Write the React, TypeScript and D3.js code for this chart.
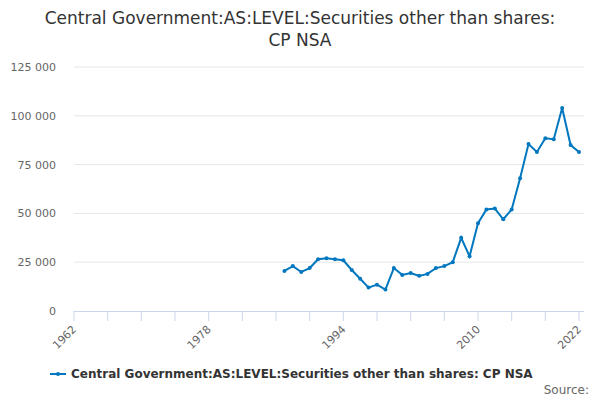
import React from 'react';
import * as d3 from 'd3';

const years = d3.range(1987, 2023);
const values = [20500, 23000, 20000, 22000, 26500, 27000, 26500, 26000, 21000, 16500, 12000, 13500, 11000, 22000, 18500, 19500, 18000, 19000, 22000, 23000, 25000, 37500, 28000, 45000, 52000, 52500, 47000, 52000, 68000, 85500, 81500, 88500, 88000, 104000, 85000, 81500];
const yTicks = [0, 25000, 50000, 75000, 100000, 125000];
const xLabels = [1962, 1978, 1994, 2010, 2022];
const xTickMarks = [...d3.range(1962, 2022, 4), 2022];
const title = ['Central Government:AS:LEVEL:Securities other than shares:', 'CP NSA'];
const seriesName = 'Central Government:AS:LEVEL:Securities other than shares: CP NSA';

const color = '#0077be';
const font = '"DejaVu Sans", sans-serif';

const App: React.FC = () => {
  const x = d3.scaleLinear().domain([1962, 2022]).range([74, 579]);
  const y = d3.scaleLinear().domain([0, 125000]).range([311, 67]);
  const line = d3.line<number>().x((_, i) => x(years[i])).y(d => y(d));
  const fmt = (v: number) => d3.format(',')(v).replace(/,/g, ' ');

  return (
    <svg width={600} height={400} style={{ position: 'absolute', left: 0, top: 0, fontFamily: font }}>
      <rect width={600} height={400} fill="#fff" />
      {title.map((t, i) => (
        <text key={i} x={300} y={24 + i * 22} textAnchor="middle" fontSize={17} fill="#333">{t}</text>
      ))}
      {yTicks.map(t => (
        <g key={t}>
          {t > 0 && <line x1={74} x2={584} y1={y(t)} y2={y(t)} stroke="#e6e6e6" />}
          <text x={56} y={y(t) + 4} textAnchor="end" fontSize={11} fill="#666">{fmt(t)}</text>
        </g>
      ))}
      <line x1={74} x2={584} y1={311.5} y2={311.5} stroke="#ccd6eb" />
      {xTickMarks.map(t => (
        <line key={t} x1={x(t)} x2={x(t)} y1={311} y2={321} stroke="#ccd6eb" />
      ))}
      {xLabels.map(t => (
        <text key={t} transform={`translate(${x(t) + 3},${330}) rotate(-45)`} textAnchor="end" fontSize={11} fill="#666">{t}</text>
      ))}
      <path d={line(values) || ''} fill="none" stroke={color} strokeWidth={2} />
      {values.map((v, i) => (
        <circle key={i} cx={x(years[i])} cy={y(v)} r={2} fill={color} />
      ))}
      <line x1={50} x2={66} y1={374} y2={374} stroke={color} strokeWidth={2} />
      <circle cx={58} cy={374} r={2} fill={color} />
      <text x={71} y={378} fontSize={12} fontWeight="bold" fill="#333">{seriesName}</text>
      <text x={589} y={394} textAnchor="end" fontSize={12} fill="#666">Source:</text>
    </svg>
  );
};

export default App;
